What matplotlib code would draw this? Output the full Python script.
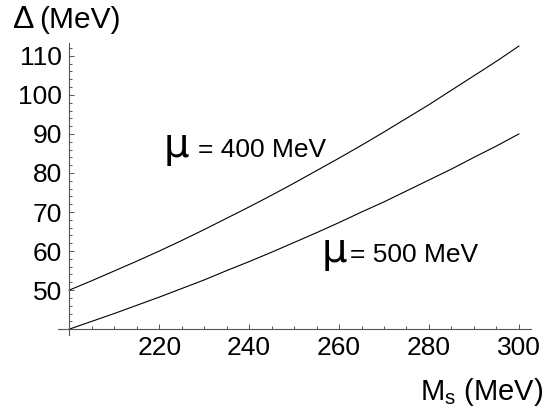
import matplotlib
matplotlib.use("Agg")
import matplotlib.pyplot as plt

plt.rcParams['font.family'] = ['Liberation Sans', 'DejaVu Sans']
plt.rcParams['mathtext.fontset'] = 'custom'
plt.rcParams['mathtext.rm'] = 'Liberation Sans'
plt.rcParams['mathtext.it'] = 'Liberation Sans'

# data
ms = [200, 205, 210, 215, 220, 225, 230, 235, 240, 245, 250,
      255, 260, 265, 270, 275, 280, 285, 290, 295, 300]
delta_400 = [50.0, 52.4, 54.9, 57.4, 60.0, 62.7, 65.5, 68.4, 71.3, 74.3, 77.4,
             80.6, 83.8, 87.1, 90.5, 94.0, 97.5, 101.2, 104.9, 108.6, 112.5]
delta_500 = [40.0, 42.0, 44.0, 46.1, 48.2, 50.4, 52.6, 55.0, 57.3, 59.7, 62.2,
             64.7, 67.3, 70.0, 72.6, 75.4, 78.2, 81.0, 84.0, 86.9, 90.0]

x_ticks = [220, 240, 260, 280, 300]
y_ticks = [50, 60, 70, 80, 90, 100, 110]

fig = plt.figure(figsize=(5.5, 4.16), dpi=100)
ax = fig.add_axes([0.1055, 0.1947, 0.86, 0.702])

ax.plot(ms, delta_400, color='black', lw=0.8)
ax.plot(ms, delta_500, color='black', lw=0.8)

ax.set_xlim(197.5, 302.7)
ax.set_ylim(38.5, 113.3)

ax.spines['left'].set_position(('data', 200))
ax.spines['bottom'].set_position(('data', 40))
ax.spines['right'].set_visible(False)
ax.spines['top'].set_visible(False)
for s in ('left', 'bottom'):
    ax.spines[s].set_color('#555555')
    ax.spines[s].set_linewidth(0.8)

ax.set_xticks(x_ticks)
ax.set_yticks(y_ticks)
ax.set_xticks(range(205, 301, 5), minor=True)
ax.set_yticks(range(42, 113, 2), minor=True)
ax.tick_params(which='both', direction='in', color='#555555', width=0.7,
               labelsize=19)
ax.tick_params(which='major', length=3.5)
ax.tick_params(which='minor', length=2)
ax.tick_params(axis='x', pad=5)
ax.tick_params(axis='y', pad=5)

fig.text(13 / 550, 1 - 28 / 416, 'Δ', fontsize=23, va='baseline')
fig.text(39 / 550, 1 - 28 / 416, '(MeV)', fontsize=21.5, va='baseline')
fig.text(543 / 550, 1 - 400 / 416, r'M$_{\rm s}$ (MeV)', fontsize=21,
         ha='right', va='baseline')

ax.text(221.0, 84.1, 'μ', fontsize=29, family='DejaVu Sans', va='baseline')
ax.text(228.7, 84.1, '= 400 MeV', fontsize=19, va='baseline')
ax.text(256.2, 57.2, 'μ', fontsize=29, family='DejaVu Sans', va='baseline')
ax.text(262.4, 57.2, '= 500 MeV', fontsize=19, va='baseline')

fig.savefig('out.png', dpi=100)
